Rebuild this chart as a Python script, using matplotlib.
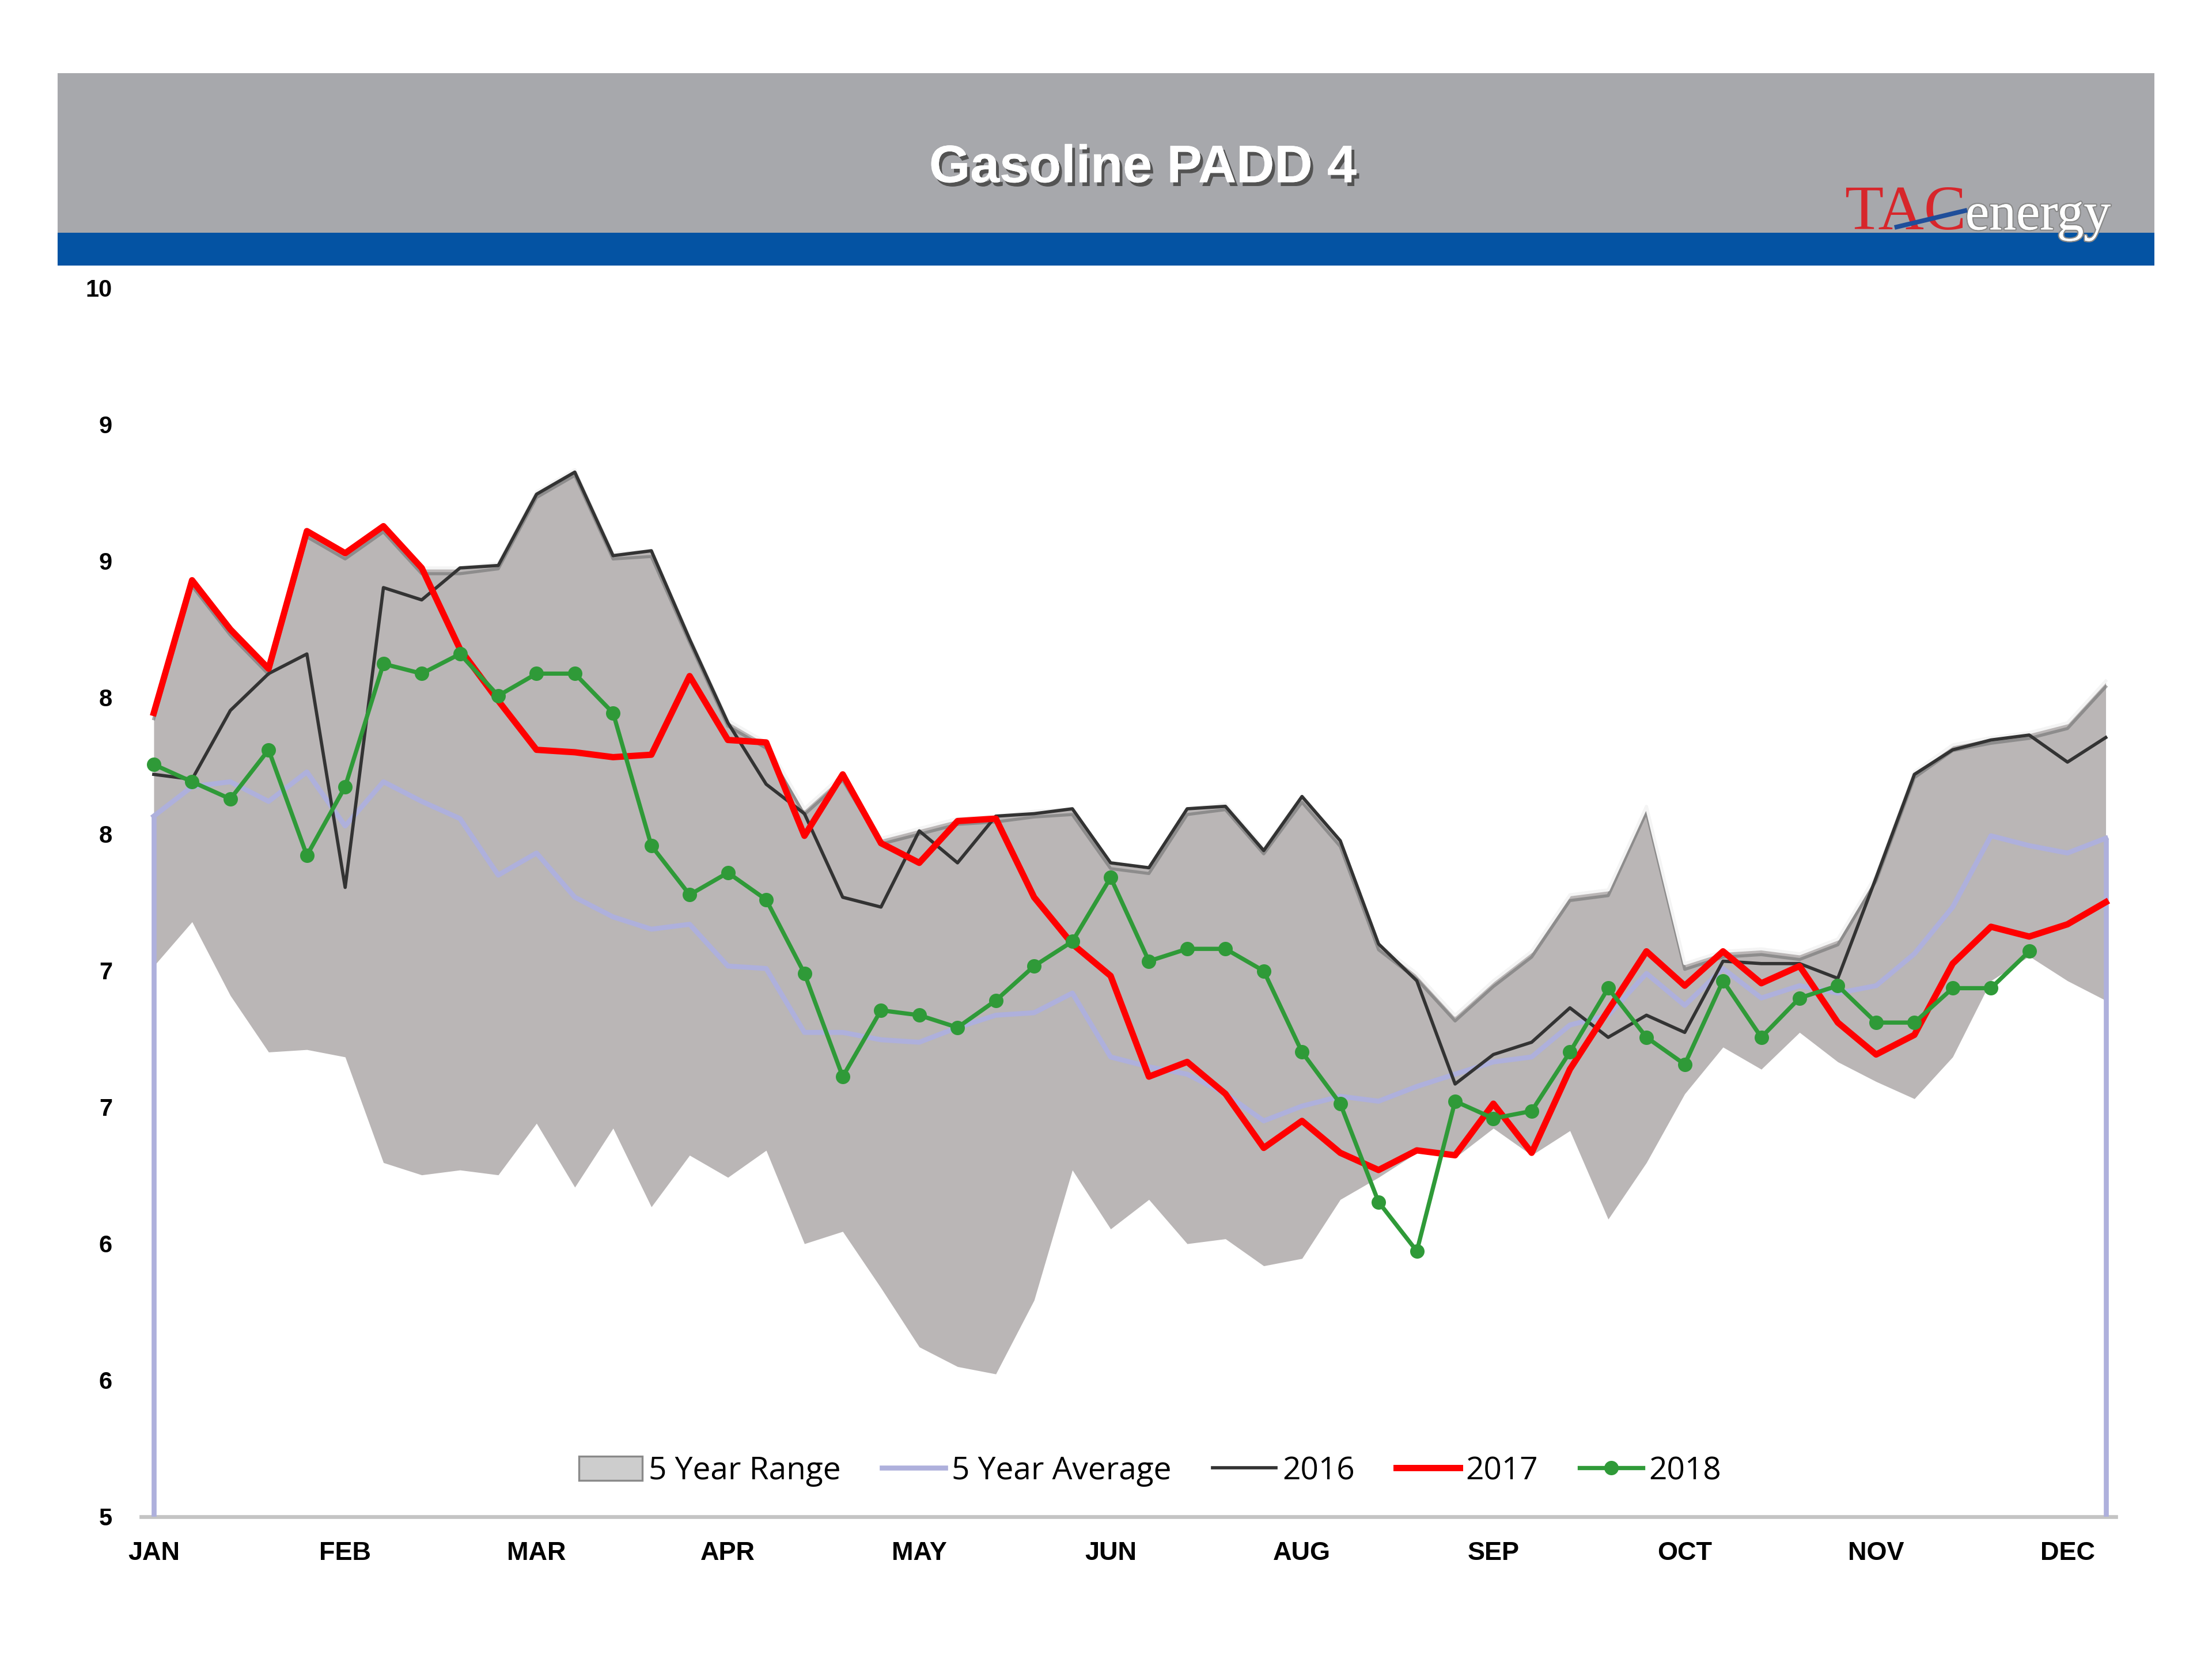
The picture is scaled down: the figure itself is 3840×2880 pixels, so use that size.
import numpy as np
import matplotlib
matplotlib.use("Agg")
import matplotlib.pyplot as plt
from matplotlib.patches import Rectangle, Patch
from matplotlib.lines import Line2D
import matplotlib.patheffects as pe

# ---------------- data (weekly, 52 weeks) ----------------
months = ["JAN", "FEB", "MAR", "APR", "MAY", "JUN", "AUG", "SEP", "OCT", "NOV", "DEC"]

range_high = [8.27, 8.81, 8.61, 8.45, 9.01, 8.92, 9.03, 8.86, 8.86, 8.88,
              9.17, 9.26, 8.92, 8.93, 8.58, 8.24, 8.15, 7.88, 8.02, 7.76,
              7.80, 7.84, 7.85, 7.87, 7.88, 7.66, 7.64, 7.88, 7.90, 7.72,
              7.93, 7.75, 7.33, 7.21, 7.04, 7.18, 7.30, 7.53, 7.55, 7.89,
              7.25, 7.30, 7.31, 7.29, 7.35, 7.61, 8.03, 8.14, 8.17, 8.19,
              8.23, 8.40]
range_low = [7.24, 7.42, 7.12, 6.89, 6.90, 6.87, 6.44, 6.39, 6.41, 6.39,
             6.60, 6.34, 6.58, 6.26, 6.47, 6.38, 6.49, 6.11, 6.16, 5.93,
             5.69, 5.61, 5.58, 5.88, 6.41, 6.17, 6.29, 6.11, 6.13, 6.02,
             6.05, 6.29, 6.38, 6.48, 6.46, 6.58, 6.47, 6.57, 6.21, 6.44,
             6.72, 6.91, 6.82, 6.97, 6.85, 6.77, 6.70, 6.87, 7.18, 7.28,
             7.18, 7.10]
avg5 = [7.85, 7.97, 7.99, 7.91, 8.03, 7.81, 7.99, 7.91, 7.84, 7.61,
        7.70, 7.52, 7.44, 7.39, 7.41, 7.24, 7.23, 6.97, 6.97, 6.94,
        6.93, 6.99, 7.04, 7.05, 7.13, 6.87, 6.83, 6.80, 6.72, 6.61,
        6.67, 6.71, 6.69, 6.75, 6.80, 6.85, 6.87, 7.00, 7.04, 7.21,
        7.08, 7.23, 7.11, 7.16, 7.13, 7.16, 7.29, 7.48, 7.77, 7.73,
        7.70, 7.76]
y2016 = [8.02, 8.00, 8.28, 8.43, 8.51, 7.56, 8.78, 8.73, 8.86, 8.87,
         9.16, 9.25, 8.91, 8.93, 8.57, 8.23, 7.98, 7.86, 7.52, 7.48,
         7.79, 7.66, 7.85, 7.86, 7.88, 7.66, 7.64, 7.88, 7.89, 7.71,
         7.93, 7.75, 7.33, 7.18, 6.76, 6.88, 6.93, 7.07, 6.95, 7.04,
         6.97, 7.26, 7.25, 7.25, 7.19, 7.60, 8.02, 8.12, 8.16, 8.18,
         8.07, 8.17]
y2017 = [8.27, 8.81, 8.61, 8.45, 9.01, 8.92, 9.03, 8.86, 8.53, 8.32,
         8.12, 8.11, 8.09, 8.10, 8.42, 8.16, 8.15, 7.77, 8.02, 7.74,
         7.66, 7.83, 7.84, 7.52, 7.33, 7.20, 6.79, 6.85, 6.72, 6.50,
         6.61, 6.48, 6.41, 6.49, 6.47, 6.68, 6.48, 6.82, 7.06, 7.30,
         7.16, 7.30, 7.17, 7.24, 7.01, 6.88, 6.96, 7.25, 7.40, 7.36,
         7.41, 7.50]
y2018 = [8.06, 7.99, 7.92, 8.12, 7.69, 7.97, 8.47, 8.43, 8.51, 8.34,
         8.43, 8.43, 8.27, 7.73, 7.53, 7.62, 7.51, 7.21, 6.79, 7.06,
         7.04, 6.99, 7.10, 7.24, 7.34, 7.60, 7.26, 7.31, 7.31, 7.22,
         6.89, 6.68, 6.28, 6.08, 6.69, 6.62, 6.65, 6.89, 7.15, 6.95,
         6.84, 7.18, 6.95, 7.11, 7.16, 7.01, 7.01, 7.15, 7.15, 7.30]

# ---------------- style ----------------
plt.rcParams['font.family'] = ['Liberation Sans', 'DejaVu Sans']

C_BAND = '#bab6b6'
C_AVG = '#aeb0dc'
C_2016 = '#333333'
C_2017 = '#ff0000'
C_2018 = '#2f9a38'

fig = plt.figure(figsize=(16, 12), dpi=240)
fig.patch.set_facecolor('white')

# header bars
fig.patches.append(Rectangle((0.0261, 0.8597), 0.9478, 0.0961, transform=fig.transFigure,
                             facecolor='#a7a8ac', edgecolor='none', zorder=0))
fig.patches.append(Rectangle((0.0261, 0.8401), 0.9478, 0.0196, transform=fig.transFigure,
                             facecolor='#0453a3', edgecolor='none', zorder=0))
fig.text(0.5166, 0.8985, "Gasoline PADD 4", color='white', fontsize=27.5, fontweight='bold',
         ha='center', va='center',
         path_effects=[pe.withSimplePatchShadow(offset=(1.5, -2), shadow_rgbFace='#4a4a4a', alpha=0.9),
                       pe.Normal()])
# logo
fig.text(0.834, 0.8617, "TAC", color='#d7262b', fontsize=33, family='Liberation Serif',
         ha='left', va='baseline', zorder=3)
fig.text(0.8885, 0.8617, "energy", color='white', fontsize=28, family='Liberation Serif',
         ha='left', va='baseline', zorder=3,
         path_effects=[pe.withStroke(linewidth=1.4, foreground='#8a8a8a'), pe.Normal()])
fig.add_artist(Line2D([0.8575, 0.8883], [0.8632, 0.8730], transform=fig.transFigure,
                      color='#1f4e9a', lw=2.4, zorder=4))

# ---------------- axes ----------------
ax = fig.add_axes([0.06378, 0.08588, 0.89286, 0.74064])
x = np.arange(len(range_high))

ax.fill_between(x, range_low, range_high, color=C_BAND, lw=0, zorder=1)
ax.plot(x, range_high, color='#f4f4f4', lw=1.6, zorder=2,
        path_effects=[pe.SimpleLineShadow(offset=(0, -3), shadow_color='#707070', alpha=0.6),
                      pe.Normal()])

ax.plot(x, avg5, color=C_AVG, lw=2.6, zorder=3)
ax.vlines([x[0], x[-1]], 5, [avg5[0], avg5[-1]], color=C_AVG, lw=2.6, zorder=3)
ax.plot(x, y2016, color=C_2016, lw=1.7, zorder=4)
ax.plot(x, y2017, color=C_2017, lw=3.3, zorder=5)
ax.plot(np.arange(len(y2018)), y2018, color=C_2018, lw=2.2, marker='o', ms=6.5, zorder=6)

ax.set_xlim(-0.332, 51.27)
ax.set_ylim(5, 10)

yt = np.linspace(5, 10, 10)
ax.set_yticks(yt)
ax.set_yticklabels([f"{v:.0f}" for v in yt], fontsize=12.5, fontweight='bold')
ax.set_xticks(x[::5])
ax.set_xticklabels(months, fontsize=13.5, fontweight='bold')
ax.tick_params(axis='y', length=0, pad=15)
ax.tick_params(axis='x', length=0, pad=13)

for s in ['top', 'right', 'left']:
    ax.spines[s].set_visible(False)
ax.spines['bottom'].set_color('#c4c4c4')
ax.spines['bottom'].set_linewidth(2)
ax.set_facecolor('none')

handles = [Patch(facecolor='#cdcdcd', edgecolor='#8a8a8a', lw=1),
           Line2D([], [], color=C_AVG, lw=2.6),
           Line2D([], [], color=C_2016, lw=1.7),
           Line2D([], [], color=C_2017, lw=3.3),
           Line2D([], [], color=C_2018, lw=2.2, marker='o', ms=6.5)]
labels = ["5 Year Range", "5 Year Average", "2016", "2017", "2018"]
ax.legend(handles, labels, loc='center', bbox_to_anchor=(0.511, 0.037), ncol=5,
          frameon=False, prop={'family': 'Open Sans', 'size': 16.5},
          handlelength=2.0, handletextpad=0.2, columnspacing=1.3, handleheight=0.8)

fig.savefig("out.png", dpi=240, facecolor='white')
